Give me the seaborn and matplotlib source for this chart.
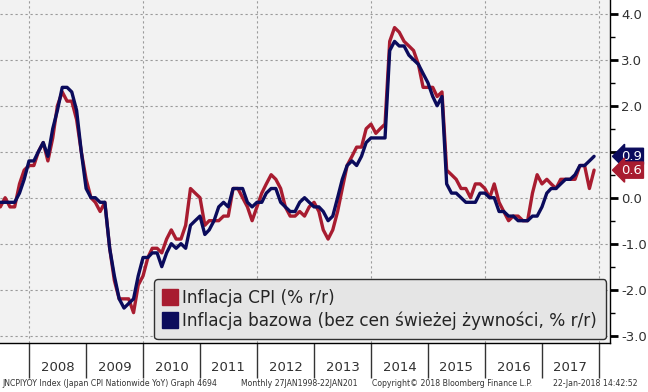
import numpy as np
import pandas as pd
import matplotlib
matplotlib.use("Agg")
import matplotlib.pyplot as plt
import seaborn as sns
from matplotlib.lines import Line2D

# ---------------- data (monthly, Jun 2007 - Nov 2017, % y/y) ----------------
first_month = "2007-06-30"
cpi = [
    -0.2, 0.0, -0.2, -0.2, 0.3, 0.6, 0.7,
    0.7, 1.0, 1.2, 0.8, 1.3, 2.0, 2.3, 2.1, 2.1, 1.7, 1.0, 0.4,
    0.0, -0.1, -0.3, -0.1, -1.1, -1.8, -2.2, -2.2, -2.2, -2.5, -1.9, -1.7,
    -1.3, -1.1, -1.1, -1.2, -0.9, -0.7, -0.9, -0.9, -0.6, 0.2, 0.1, 0.0,
    -0.6, -0.5, -0.5, -0.5, -0.4, -0.4, 0.2, 0.2, 0.0, -0.2, -0.5, -0.2,
    0.1, 0.3, 0.5, 0.4, 0.2, -0.2, -0.4, -0.4, -0.3, -0.4, -0.2, -0.1,
    -0.3, -0.7, -0.9, -0.7, -0.3, 0.2, 0.7, 0.9, 1.1, 1.1, 1.5, 1.6,
    1.4, 1.5, 1.6, 3.4, 3.7, 3.6, 3.4, 3.3, 3.2, 2.9, 2.4, 2.4,
    2.4, 2.2, 2.3, 0.6, 0.5, 0.4, 0.2, 0.2, 0.0, 0.3, 0.3, 0.2,
    0.0, 0.3, -0.1, -0.3, -0.5, -0.4, -0.4, -0.5, -0.5, 0.1, 0.5, 0.3,
    0.4, 0.3, 0.2, 0.4, 0.4, 0.4, 0.4, 0.7, 0.7, 0.2, 0.6,
]
core = [
    -0.1, -0.1, -0.1, -0.1, 0.1, 0.4, 0.8,
    0.8, 1.0, 1.2, 0.9, 1.5, 1.9, 2.4, 2.4, 2.3, 1.9, 1.0, 0.2,
    0.0, 0.0, -0.1, -0.1, -1.1, -1.7, -2.2, -2.4, -2.3, -2.2, -1.7, -1.3,
    -1.3, -1.2, -1.2, -1.5, -1.2, -1.0, -1.1, -1.0, -1.1, -0.6, -0.5, -0.4,
    -0.8, -0.7, -0.5, -0.2, -0.1, -0.2, 0.2, 0.2, 0.2, -0.1, -0.2, -0.1,
    -0.1, 0.1, 0.2, 0.2, -0.1, -0.2, -0.3, -0.3, -0.1, 0.0, -0.1, -0.2,
    -0.2, -0.3, -0.5, -0.4, 0.0, 0.4, 0.7, 0.8, 0.7, 0.9, 1.2, 1.3,
    1.3, 1.3, 1.3, 3.2, 3.4, 3.3, 3.3, 3.1, 3.0, 2.9, 2.7, 2.5,
    2.2, 2.0, 2.2, 0.3, 0.1, 0.1, 0.0, -0.1, -0.1, -0.1, 0.1, 0.1,
    0.0, 0.0, -0.3, -0.3, -0.4, -0.4, -0.5, -0.5, -0.5, -0.4, -0.4, -0.2,
    0.1, 0.2, 0.2, 0.3, 0.4, 0.4, 0.5, 0.7, 0.7, 0.8, 0.9,
]
label_cpi = "Inflacja CPI (% r/r)"
label_core = "Inflacja bazowa (bez cen świeżej żywności, % r/r)"
years = list(range(2008, 2018))
ytick_vals = [-3, -2, -1, 0, 1, 2, 3, 4]
ytick_hidden = [1]          # label hidden behind the value tags in the reference
ytick_minor = [-2.5, -1.5, -0.5, 0.5, 1.5, 2.5, 3.5]
footer = [
    "JNCPIYOY Index (Japan CPI Nationwide YoY) Graph 4694",
    "Monthly 27JAN1998-22JAN201",
    "Copyright\u00a9 2018 Bloomberg Finance L.P.",
    "22-Jan-2018 14:42:52",
]

RED = "#A81C30"
NAVY = "#0B0B5C"

# ---------------- build ----------------
sns.set_theme(style="white")
plt.rcParams["font.family"] = ["DejaVu Sans"]
plt.rcParams["axes.unicode_minus"] = False

n = len(cpi)
dates = pd.date_range(first_month, periods=n, freq="ME")
df = pd.DataFrame({
    "date": list(dates) + list(dates),
    "value": cpi + core,
    "series": [label_cpi] * n + [label_core] * n,
})

fig = plt.figure(figsize=(6.48, 3.92), dpi=100)
fig.patch.set_facecolor("white")
ax = fig.add_axes([0, 1 - 343 / 392, 610 / 648, 343 / 392])
ax.set_facecolor("#F2F2F2")

sns.lineplot(data=df, x="date", y="value", hue="series",
             palette=[RED, NAVY], linewidth=2.4, legend=False, ax=ax,
             zorder=3)

ax.set_xlim(pd.Timestamp("2007-06-28"), pd.Timestamp("2018-03-12"))
ax.set_ylim(-3.16, 4.3)

# y axis on the right
ax.yaxis.tick_right()
ax.set_yticks(ytick_vals)
ax.set_yticklabels(["" if v in ytick_hidden else f"{v:.1f}" for v in ytick_vals])
ax.set_yticks(ytick_minor, minor=True)
ax.tick_params(axis="y", which="major", direction="out", length=6, width=2,
               pad=2, labelsize=9.5, color="black", labelcolor="#303030",
               right=True, left=False)
ax.tick_params(axis="y", which="minor", direction="out", length=3.5,
               width=1, color="black", right=True, left=False)

# x axis: year separators and centred year labels
ax.set_xticks([pd.Timestamp(f"{y}-01-01") for y in years + [years[-1] + 1]])
ax.set_xticklabels([""] * (len(years) + 1))
ax.set_xticks([pd.Timestamp(f"{y}-07-01") for y in years], minor=True)
ax.set_xticklabels([str(y) for y in years], minor=True)
ax.tick_params(axis="x", which="major", direction="out", length=25, width=1,
               color="#333333", bottom=True)
ax.tick_params(axis="x", which="minor", length=0, pad=13, labelsize=9.5,
               labelcolor="#303030")
ax.set_xlabel("")
ax.set_ylabel("")

# grid
ax.grid(False)
for v in ytick_vals:
    ax.axhline(v, color="#9A9A9A", linestyle=(0, (2, 2.5)), linewidth=0.8, zorder=1)
for y in years[::2] + [years[-1] + 1]:
    ax.axvline(pd.Timestamp(f"{y}-01-01"), color="#9A9A9A",
               linestyle=(0, (2, 2.5)), linewidth=0.8, zorder=1)

for s in ["left", "top"]:
    ax.spines[s].set_visible(False)
for s in ["right", "bottom"]:
    ax.spines[s].set_visible(True)
    ax.spines[s].set_color("black")
    ax.spines[s].set_linewidth(1.0)

# legend
handles = [
    Line2D([], [], marker="s", linestyle="none", markersize=11,
           markerfacecolor=RED, markeredgecolor=RED),
    Line2D([], [], marker="s", linestyle="none", markersize=11,
           markerfacecolor=NAVY, markeredgecolor=NAVY),
]
leg = ax.legend(handles, [label_cpi, label_core], loc="lower right",
                bbox_to_anchor=(0.994, 0.011), borderaxespad=0,
                frameon=True, fancybox=True, fontsize=12.2,
                handlelength=0.7, handletextpad=0.4, labelspacing=0.28,
                borderpad=0.55, labelcolor="#252525", framealpha=1)
leg.get_frame().set_facecolor("#E5E5E5")
leg.get_frame().set_edgecolor("#303030")
leg.get_frame().set_linewidth(1.0)
leg.set_zorder(5)

# last-value tags
for val, col in [(core[-1], NAVY), (cpi[-1], RED)]:
    ax.annotate(f"{val:.1f}", xy=(1, val), xycoords=("axes fraction", "data"),
                xytext=(11, 0), textcoords="offset pixels", va="center",
                ha="left", color="white", fontsize=9.5,
                bbox=dict(boxstyle="larrow,pad=0.12", fc=col, ec=col),
                annotation_clip=False, zorder=6)

# footer
xs = [2 / 648, 241 / 648, 372 / 648, 553 / 648]
for xf, t in zip(xs, footer):
    fig.text(xf, 8 / 392, t, fontsize=5.6, color="#333333", va="center")

fig.savefig("out.png", dpi=100, facecolor="white")
